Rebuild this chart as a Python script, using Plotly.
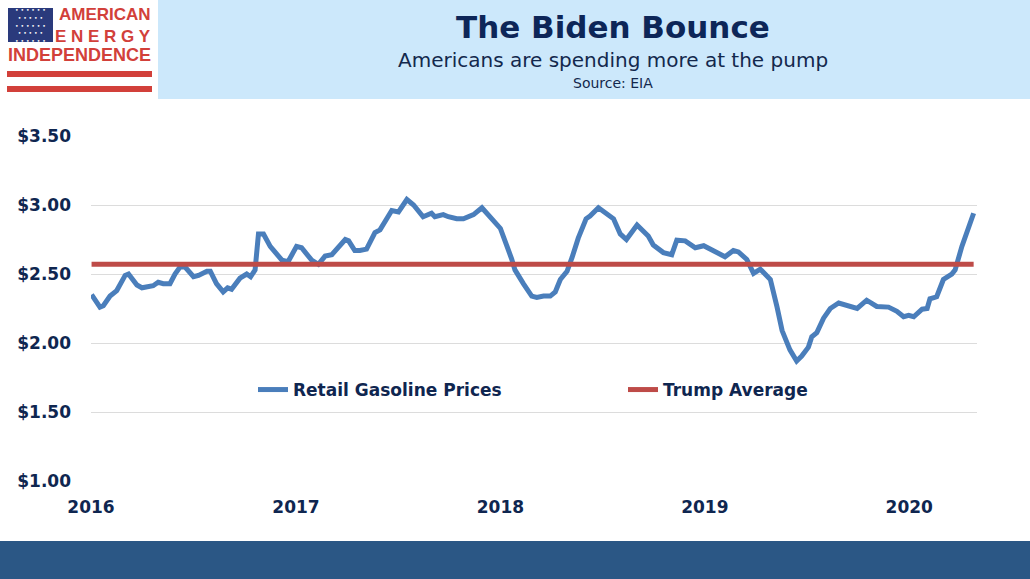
"""The Biden Bounce - weekly retail gasoline prices vs. the Trump-era average."""
import plotly.graph_objects as go

# weekly retail gasoline price, $/gal
dates = [
    '2016-01-02', '2016-01-17', '2016-01-23', '2016-02-04', '2016-02-16', '2016-03-02',
    '2016-03-08', '2016-03-23', '2016-04-01', '2016-04-12', '2016-04-21', '2016-04-30',
    '2016-05-09', '2016-05-21', '2016-05-30', '2016-06-08', '2016-06-17', '2016-07-02',
    '2016-07-11', '2016-07-26', '2016-08-01', '2016-08-12', '2016-08-24', '2016-09-01',
    '2016-09-08', '2016-09-23', '2016-10-05', '2016-10-12', '2016-10-20', '2016-10-26',
    '2016-11-04', '2016-11-16', '2016-11-25', '2016-12-07', '2016-12-18', '2017-01-02',
    '2017-01-11', '2017-01-29', '2017-02-10', '2017-02-22', '2017-03-06', '2017-03-15',
    '2017-03-30', '2017-04-05', '2017-04-16', '2017-04-25', '2017-05-07', '2017-05-22',
    '2017-05-31', '2017-06-21', '2017-07-03', '2017-07-18', '2017-07-30', '2017-08-16',
    '2017-08-31', '2017-09-06', '2017-09-21', '2017-09-30', '2017-10-15', '2017-10-27',
    '2017-11-14', '2017-11-29', '2017-12-20', '2018-01-01', '2018-01-21', '2018-01-27',
    '2018-02-11', '2018-02-26', '2018-03-07', '2018-03-19', '2018-03-31', '2018-04-09',
    '2018-04-18', '2018-04-30', '2018-05-09', '2018-05-20', '2018-06-03', '2018-06-10',
    '2018-06-25', '2018-07-07', '2018-07-22', '2018-08-03', '2018-08-14', '2018-09-02',
    '2018-09-22', '2018-10-01', '2018-10-19', '2018-11-03', '2018-11-12', '2018-11-27',
    '2018-12-06', '2018-12-15', '2018-12-30', '2019-01-10', '2019-01-25', '2019-02-06',
    '2019-02-21', '2019-03-02', '2019-03-17', '2019-03-29', '2019-04-10', '2019-04-22',
    '2019-04-28', '2019-05-10', '2019-05-19', '2019-06-02', '2019-06-14', '2019-06-23',
    '2019-07-05', '2019-07-11', '2019-07-20', '2019-08-01', '2019-08-13', '2019-08-28',
    '2019-09-12', '2019-09-30', '2019-10-17', '2019-11-04', '2019-11-25', '2019-12-10',
    '2019-12-22', '2019-12-31', '2020-01-09', '2020-01-24', '2020-02-02', '2020-02-07',
    '2020-02-19', '2020-03-02', '2020-03-17', '2020-03-23', '2020-04-04', '2020-04-13',
    '2020-04-25',
]
prices = [
    2.35, 2.26, 2.27, 2.34, 2.38, 2.49,
    2.50, 2.42, 2.40, 2.41, 2.415, 2.44,
    2.43, 2.43, 2.50, 2.55, 2.55, 2.48,
    2.49, 2.52, 2.52, 2.43, 2.37, 2.40,
    2.39, 2.47, 2.50, 2.48, 2.53, 2.79,
    2.79, 2.70, 2.66, 2.60, 2.59, 2.70,
    2.69, 2.60, 2.57, 2.63, 2.64, 2.68,
    2.75, 2.74, 2.67, 2.67, 2.68, 2.80,
    2.82, 2.96, 2.95, 3.04, 3.00, 2.915,
    2.94, 2.915, 2.93, 2.915, 2.90, 2.90,
    2.93, 2.98, 2.89, 2.83, 2.61, 2.53,
    2.43, 2.34, 2.33, 2.34, 2.34, 2.37,
    2.46, 2.52, 2.62, 2.76, 2.90, 2.92,
    2.98, 2.94, 2.90, 2.79, 2.75, 2.855,
    2.775, 2.71, 2.655, 2.64, 2.745, 2.74,
    2.72, 2.69, 2.705, 2.68, 2.655, 2.625,
    2.67, 2.66, 2.605, 2.505, 2.535, 2.49,
    2.46, 2.26, 2.09, 1.95, 1.87, 1.905,
    1.97, 2.045, 2.075, 2.18, 2.25, 2.29,
    2.27, 2.25, 2.31, 2.265, 2.26, 2.23,
    2.19, 2.20, 2.19, 2.245, 2.25, 2.32,
    2.335, 2.46, 2.50, 2.53, 2.70, 2.81,
    2.94,
]
trump_average = 2.57

years = ['2016-01-01', '2017-01-01', '2018-01-01', '2019-01-01', '2020-01-01']
year_labels = ['2016', '2017', '2018', '2019', '2020']

NAVY = '#0f2650'
BLUE = '#4a7ebb'
RED = '#be4b48'
LOGO_RED = '#d2403a'
FONT = 'DejaVu Sans'

W, H = 1030, 579
L, R, T, B = 91, 53, 136, 98


def px(x):
    return (x - L) / (W - L - R)


def py(y):
    return (H - B - y) / (H - T - B)


fig = go.Figure()
fig.add_trace(go.Scatter(
    name='Retail Gasoline Prices',
    x=dates,
    y=prices,
    mode='lines',
    line={'color': BLUE, 'width': 5},
))
fig.add_trace(go.Scatter(
    name='Trump Average',
    x=[dates[0], dates[-1]],
    y=[trump_average, trump_average],
    mode='lines',
    line={'color': RED, 'width': 5},
))

shapes = [
    # title band, footer band
    dict(type='rect', xref='paper', yref='paper', x0=px(158), x1=px(1032), y0=py(99), y1=py(-2),
         fillcolor='#cce8fb', line_width=0, layer='below'),
    dict(type='rect', xref='paper', yref='paper', x0=px(-2), x1=px(1032), y0=py(581), y1=py(541),
         fillcolor='#2b5785', line_width=0, layer='below'),
    # logo flag + stripes
    dict(type='rect', xref='paper', yref='paper', x0=px(8), x1=px(53), y0=py(42), y1=py(8),
         fillcolor='#2a3a7c', line_width=0),
    dict(type='rect', xref='paper', yref='paper', x0=px(7), x1=px(152), y0=py(77), y1=py(71),
         fillcolor=LOGO_RED, line_width=0),
    dict(type='rect', xref='paper', yref='paper', x0=px(7), x1=px(152), y0=py(92), y1=py(86),
         fillcolor=LOGO_RED, line_width=0),
]

stars = '<br>'.join(['• • • • • •', ' • • • • • '] * 2 + ['• • • • • •'])
logo_font = dict(size=17, color=LOGO_RED, family='Liberation Sans', weight='bold')
annotations = [
    dict(text='The Biden Bounce', x=px(613), y=py(27), font=dict(size=31, color='#0d2658', weight='bold')),
    dict(text='Americans are spending more at the pump', x=px(613), y=py(60),
         font=dict(size=20, color='#13284d')),
    dict(text='Source: EIA', x=px(613), y=py(83), font=dict(size=14, color='#13284d')),
    dict(text=stars, x=px(30.5), y=py(25), font=dict(size=6, color='white', family='DejaVu Sans')),
    dict(text='AMERICAN', x=px(153), y=py(15), xanchor='right', font=dict(logo_font)),
    dict(text='E N E R G Y', x=px(153), y=py(36), xanchor='right', font=dict(logo_font)),
    dict(text='INDEPENDENCE', x=px(6), y=py(55), xanchor='left', font=dict(logo_font, size=18)),
]
for a in annotations:
    a.update(xref='paper', yref='paper', showarrow=False)
    a.setdefault('xanchor', 'center')
    a.setdefault('yanchor', 'middle')
    a['font'].setdefault('family', FONT)

fig.update_layout(
    width=W, height=H,
    margin=dict(l=L, r=R, t=T, b=B),
    paper_bgcolor='white',
    plot_bgcolor='white',
    font=dict(family=FONT, color=NAVY),
    shapes=shapes,
    annotations=annotations,
    showlegend=True,
    legend=dict(
        orientation='h', x=px(253), y=py(390), xanchor='left', yanchor='middle',
        bgcolor='rgba(0,0,0,0)', font=dict(size=17, color=NAVY, weight='bold'),
        entrywidth=325, itemclick=False,
    ),
    xaxis=dict(
        type='date', range=['2016-01-01', '2020-05-01'],
        tickvals=years, ticktext=year_labels,
        showgrid=False, zeroline=False, showline=False,
        ticks='', ticklabelstandoff=14,
        tickfont=dict(size=17, color=NAVY, weight='bold'),
    ),
    yaxis=dict(
        range=[1, 3.5], dtick=0.5, tick0=1, tickformat='$.2f',
        showgrid=True, gridcolor='#dcdcdc', gridwidth=1,
        zeroline=False, showline=False, ticks='', ticklabelstandoff=19,
        tickfont=dict(size=17, color=NAVY, weight='bold'),
    ),
)

# the page's default body margin would push the 1030x579 figure off the window
fig.write_html(
    "out.html",
    config={'displayModeBar': False},
    post_script="document.body.style.margin='0';document.body.style.overflow='hidden';",
)
